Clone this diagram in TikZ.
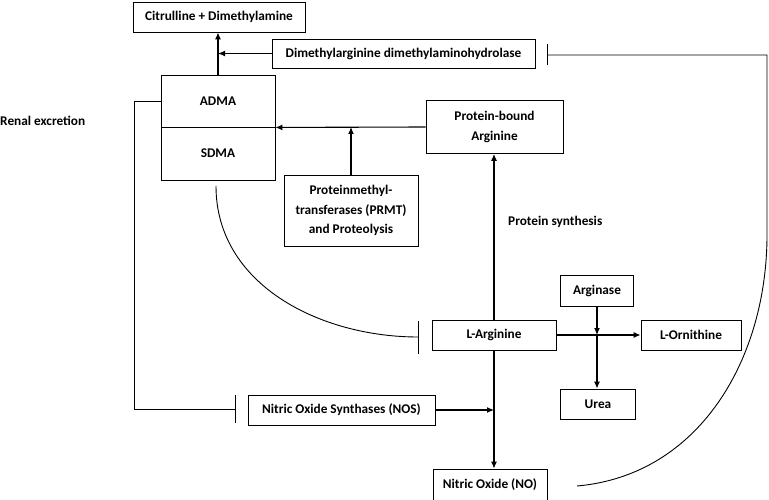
\documentclass[tikz,border=0pt]{standalone}
\usepackage{fontspec}
\setmainfont{Carlito}
\usetikzlibrary{arrows.meta,positioning}

\begin{document}
\begin{tikzpicture}[x=1pt,y=-1pt,font=\bfseries\fontsize{13.3}{19.8}\selectfont,
  box/.style={draw=black,line width=0.9pt,inner sep=0pt,align=center},
  act/.style={line width=1.1pt,-{Latex[length=7pt,width=6pt]}},
  inh/.style={line width=0.9pt,-{Bar[width=#1,line width=1.1pt]}},
  inh/.default=24pt]
\useasboundingbox (0,0) rectangle (769,500);

\node[box,minimum width=172pt,minimum height=30pt](cit) at (219,17) {Citrulline + Dimethylamine};
\node[box,minimum width=263pt,minimum height=29pt](ddah) at (403.5,53.5) {Dimethylarginine dimethylaminohydrolase};
\node[box,minimum width=114pt,minimum height=52pt](adma) at (218,101) {ADMA};
\node[box,minimum width=114pt,minimum height=53pt](sdma) at (218,153.5) {SDMA};
\node[anchor=west,inner sep=0pt](renal) at (0,121) {Renal excretion};
\node[box,minimum width=137pt,minimum height=53pt](pba) at (494.5,127) {Protein-bound\\Arginine};
\node[box,minimum width=134pt,minimum height=71pt](prmt) at (351,210.5) {Proteinmethyl-\\transferases (PRMT)\\and Proteolysis};
\node[box,minimum width=124pt,minimum height=30pt](larg) at (494,335) {L-Arginine};
\node[anchor=west,inner sep=0pt](ps) at (508,222) {Protein synthesis};
\node[box,minimum width=73pt,minimum height=31pt](arg) at (597,290.5) {Arginase};
\node[box,minimum width=100pt,minimum height=30pt](lorn) at (691,335) {L-Ornithine};
\node[box,minimum width=75pt,minimum height=30pt](urea) at (598,404) {Urea};
\node[box,minimum width=187pt,minimum height=30pt](nos) at (341.5,410) {Nitric Oxide Synthases (NOS)};
\node[box,minimum width=114pt,minimum height=31pt](no) at (490,484.5) {Nitric Oxide (NO)};

\coordinate (ddahbar) at (547,55);
\coordinate (noend) at (577,486);
\coordinate (sdmaend) at (216,186);
\coordinate (largbar) at (419,337);
\coordinate (nosbar) at (236,409);
\coordinate (split) at (arg.south |- larg.east);

\draw[act](adma.north) -- (adma.north |- cit.south);
\draw[act](ddah.west) -- (ddah.west -| adma.north);
\draw[inh=21pt](noend) to[out=5,in=270] (767,235) -- (767,55) -- (ddahbar);
\draw[inh=28pt](adma.west) -| (134,409) -- (nosbar);
\draw[act](pba.west) -- (adma.south east);
\draw[act](prmt.north) -- (prmt.north |- pba.west);
\draw[act](larg.north) -- (larg.north |- pba.south);
\draw[inh=33pt](sdmaend) to[out=270,in=180] (largbar);
\draw[act](larg.south) -- (larg.south |- no.north);
\draw[act](nos.east) -- (nos.east -| larg.south);
\draw[act](larg.east) -- (lorn.west);
\draw[act](arg.south) -- (split);
\draw[act](split) -- (arg.south |- urea.north);
\end{tikzpicture}
\end{document}
